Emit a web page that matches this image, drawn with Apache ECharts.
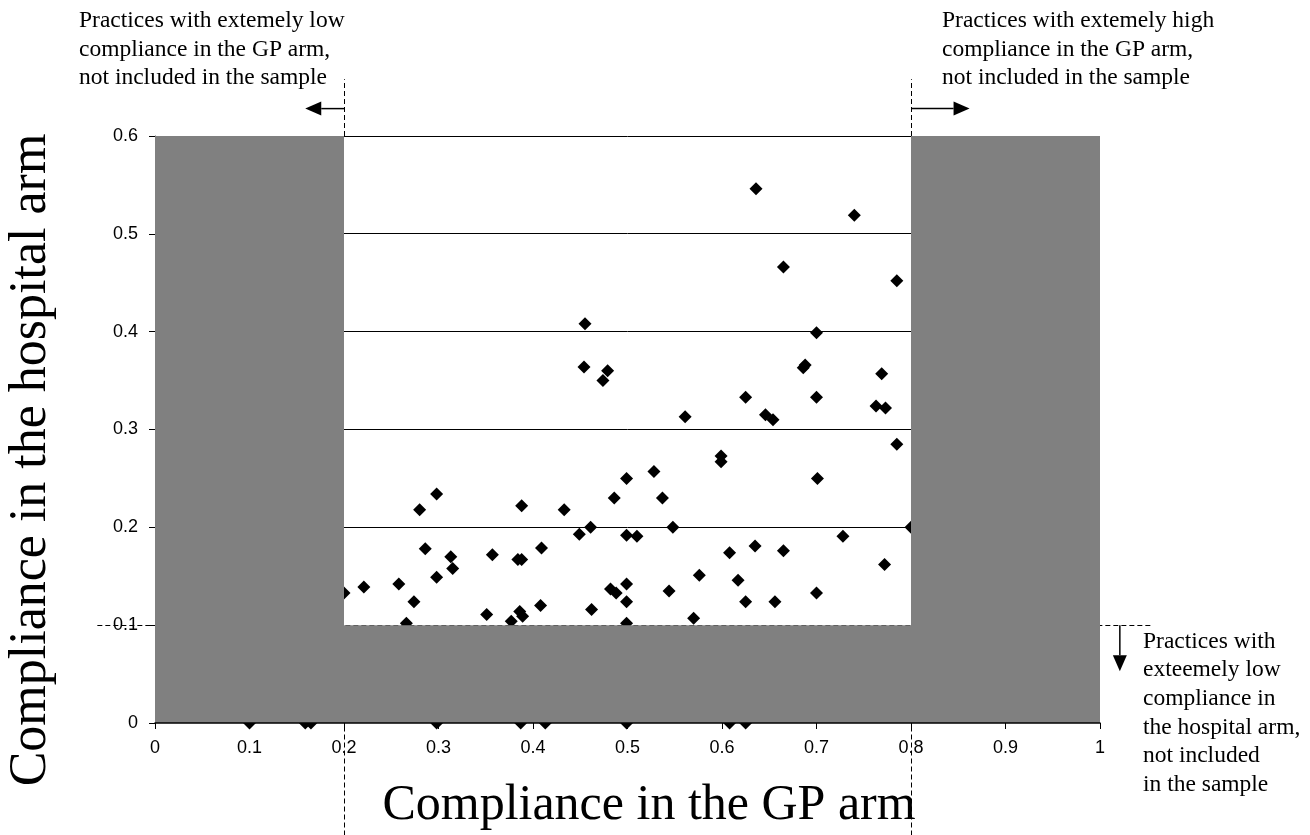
<!DOCTYPE html>
<html>
<head>
<meta charset="utf-8">
<script src="https://cdn.jsdelivr.net/npm/echarts@6/dist/echarts.min.js"></script>
<style>
html,body{margin:0;padding:0;background:#fff;}
#chart{width:1310px;height:835px;}
</style>
</head>
<body>
<div id="chart"></div>
<script>
// ---- data ----
const gpArm = [
  0.455,0.454,0.479,0.474,0.636,0.740,0.665,0.785,0.700,0.688,0.686,0.769,
  0.625,0.700,0.561,0.646,0.654,0.763,0.773,0.785,0.599,0.599,0.528,0.499,
  0.701,0.486,0.298,0.280,0.388,0.433,0.461,0.449,0.499,0.286,0.313,0.315,
  0.357,0.384,0.388,0.409,0.298,0.221,0.258,0.274,0.200,0.351,0.386,0.389,
  0.408,0.462,0.482,0.488,0.499,0.499,0.266,0.377,0.499,0.537,0.548,0.800,
  0.510,0.728,0.635,0.608,0.665,0.772,0.576,0.617,0.544,0.700,0.625,0.656,
  0.570,
  0.100,0.159,0.165,0.298,0.387,0.413,0.499,0.608,0.625
];
const hospitalArm = [
  0.408,0.364,0.360,0.350,0.546,0.519,0.466,0.452,0.399,0.366,0.363,0.357,
  0.333,0.333,0.313,0.315,0.310,0.324,0.322,0.285,0.273,0.267,0.257,0.250,
  0.250,0.230,0.234,0.218,0.222,0.218,0.200,0.193,0.192,0.178,0.170,0.158,
  0.172,0.167,0.167,0.179,0.149,0.139,0.142,0.124,0.133,0.111,0.114,0.109,
  0.120,0.116,0.137,0.133,0.142,0.124,0.102,0.104,0.102,0.230,0.200,0.200,
  0.191,0.191,0.181,0.174,0.176,0.162,0.151,0.146,0.135,0.133,0.124,0.124,
  0.107,
  0,0,0,0,0,0,0,0,0
];
const xTicks = [0,0.1,0.2,0.3,0.4,0.5,0.6,0.7,0.8,0.9,1];
const yTicks = [0,0.1,0.2,0.3,0.4,0.5,0.6];
const gridYValues = [0.2,0.3,0.4,0.5,0.6];
// sample limits
const gpLow = 0.2, gpHigh = 0.8, hospLow = 0.1;
// excluded regions [x0, y0, x1, y1]
const excluded = [
  [0, 0, gpLow, 0.6],
  [gpHigh, 0, 1, 0.6],
  [gpLow, 0, gpHigh, hospLow]
];
// dashed limit lines [x0, y0, x1, y1]
const limitLines = [
  [-0.061, hospLow, 1.055, hospLow],
  [gpLow, 0.6, gpLow, 0.658],
  [gpLow, -0.115, gpLow, 0],
  [gpHigh, 0.6, gpHigh, 0.658],
  [gpHigh, -0.115, gpHigh, 0]
];
// arrows [xFrom, yFrom, xTo, yTo]
const arrows = [
  [gpLow, 0.628, 0.159, 0.628],
  [gpHigh, 0.628, 0.862, 0.628],
  [1.021, hospLow, 1.021, 0.053]
];
const xTitle = 'Compliance in the GP arm';
const yTitle = 'Compliance in the hospital arm';
const noteLowGP = 'Practices with extemely low\ncompliance in the GP arm,\nnot included in the sample';
const noteHighGP = 'Practices with extemely high\ncompliance in the GP arm,\nnot included in the sample';
const noteLowHosp = 'Practices with\nexteemely low\ncompliance in\nthe hospital arm,\nnot included\nin the sample';

const points = gpArm.map((x, i) => [x, hospitalArm[i]]);
const gridLineData = gridYValues.map(v => [0, v, 1, v]);

const chart = echarts.init(document.getElementById('chart'), null, {renderer: 'canvas'});

function crisp(v) { return Math.round(v - 0.5) + 0.5; }

function lineItem(dashed, width) {
  return function (params, api) {
    const a = api.coord([api.value(0), api.value(1)]);
    const b = api.coord([api.value(2), api.value(3)]);
    let x1 = a[0], y1 = a[1], x2 = b[0], y2 = b[1];
    if (Math.abs(y1 - y2) < 0.01) { y1 = y2 = crisp(y1); }
    if (Math.abs(x1 - x2) < 0.01) { x1 = x2 = crisp(x1); }
    return {
      type: 'line',
      shape: {x1: x1, y1: y1, x2: x2, y2: y2},
      style: {stroke: '#000', lineWidth: width, lineDash: dashed ? [5, 3] : null}
    };
  };
}

const serifFont = '"Liberation Serif", "Times New Roman", serif';
const sansFont = '"Liberation Sans", Arial, sans-serif';

chart.setOption({
  animation: false,
  backgroundColor: '#fff',
  grid: {left: 155, right: 210, top: 136, bottom: 112, containLabel: false},
  xAxis: {
    type: 'value', min: 0, max: 1, interval: 0.1, z: 4,
    axisLine: {show: true, lineStyle: {color: '#000', width: 1.5}},
    axisTick: {show: true, length: 6, lineStyle: {color: '#000'}},
    axisLabel: {color: '#000', fontFamily: sansFont, fontSize: 18, margin: 16,
      formatter: v => String(+v.toFixed(1))},
    splitLine: {show: false}
  },
  yAxis: {
    type: 'value', min: 0, max: 0.6, interval: 0.1, z: 0,
    axisLine: {show: true, lineStyle: {color: '#555', width: 1}},
    axisTick: {show: true, length: 6, lineStyle: {color: '#000'}},
    axisLabel: {color: '#000', fontFamily: sansFont, fontSize: 18, margin: 17,
      formatter: v => String(+v.toFixed(1))},
    splitLine: {show: false}
  },
  series: [
    {
      type: 'custom', z: 1, silent: true,
      renderItem: lineItem(false, 1),
      data: gridLineData
    },
    {
      type: 'custom', z: 1, silent: true,
      renderItem: lineItem(true, 1),
      data: limitLines
    },
    {
      type: 'custom', z: 1, silent: true,
      data: arrows,
      renderItem: function (params, api) {
        const a = api.coord([api.value(0), api.value(1)]);
        const b = api.coord([api.value(2), api.value(3)]);
        const dx = b[0] - a[0], dy = b[1] - a[1];
        const len = Math.sqrt(dx * dx + dy * dy);
        const ux = dx / len, uy = dy / len;
        const hl = 16, hw = 7;
        const bx = b[0] - ux * hl, by = b[1] - uy * hl;
        return {
          type: 'group',
          children: [
            {type: 'line', shape: {x1: a[0], y1: a[1], x2: bx, y2: by},
             style: {stroke: '#000', lineWidth: 1.5}},
            {type: 'polygon', shape: {points: [
               [b[0], b[1]],
               [bx - uy * hw, by + ux * hw],
               [bx + uy * hw, by - ux * hw]
             ]}, style: {fill: '#000'}}
          ]
        };
      }
    },
    {
      type: 'scatter', z: 2, clip: false,
      symbol: 'diamond', symbolSize: 13,
      itemStyle: {color: '#000', opacity: 1},
      data: points
    },
    {
      type: 'custom', z: 3, silent: true,
      data: excluded,
      renderItem: function (params, api) {
        const a = api.coord([api.value(0), api.value(3)]);
        const b = api.coord([api.value(2), api.value(1)]);
        return {
          type: 'rect',
          shape: {x: a[0], y: a[1], width: b[0] - a[0], height: b[1] - a[1]},
          style: {fill: '#808080'}
        };
      }
    }
  ],
  graphic: [
    {type: 'text', x: 649, y: 806, rotation: 0,
     style: {text: xTitle, font: '50px ' + serifFont, fill: '#000', align: 'center', verticalAlign: 'middle'}},
    {type: 'text', x: 31, y: 460, rotation: Math.PI / 2,
     style: {text: yTitle, font: '52px ' + serifFont, fill: '#000', align: 'center', verticalAlign: 'middle'}},
    {type: 'text', x: 79, y: 7,
     style: {text: noteLowGP, font: '23.5px ' + serifFont, lineHeight: 28.4, fill: '#000', align: 'left', verticalAlign: 'top'}},
    {type: 'text', x: 942, y: 7,
     style: {text: noteHighGP, font: '23.5px ' + serifFont, lineHeight: 28.4, fill: '#000', align: 'left', verticalAlign: 'top'}},
    {type: 'text', x: 1143, y: 627,
     style: {text: noteLowHosp, font: '23.5px ' + serifFont, lineHeight: 28.7, fill: '#000', align: 'left', verticalAlign: 'top'}}
  ]
});
</script>
</body>
</html>
